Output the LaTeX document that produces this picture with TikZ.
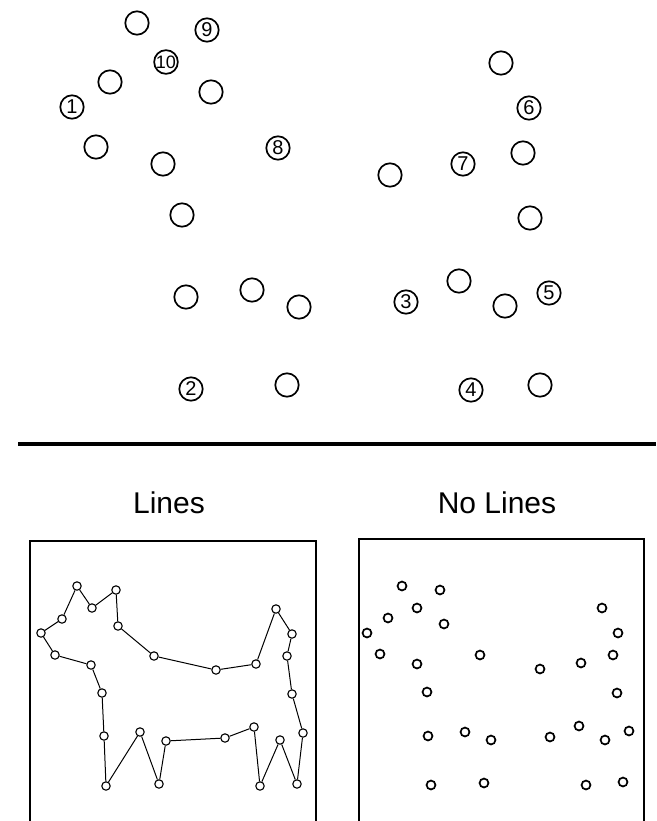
\documentclass[tikz,border=0pt]{standalone}
\usepackage{fontspec}
\setmainfont{Liberation Sans}
\begin{document}
\begin{tikzpicture}[x=1pt,y=-1pt,
  spot/.style={draw,circle,line width=1.7pt,minimum size=23.4pt,inner sep=0pt,font=\fontsize{20}{20}\selectfont},
  dot/.style={draw,circle,fill=white,line width=1.1pt,minimum size=8.4pt,inner sep=0pt},
  bolddot/.style={draw,circle,line width=1.7pt,minimum size=8.9pt,inner sep=0pt},
  title/.style={anchor=base,font=\fontsize{30}{36}\selectfont}]
\useasboundingbox (0,0) rectangle (656,821);
% upper field: plain spots and numbered spots
\foreach \x/\y [count=\i] in {137/23, 110/82, 211/92, 96/147, 163/164, 182/215,
    501/63, 523/153, 390/175, 530/218, 186/297, 252/290, 299/307,
    459/281, 505/306, 287/385, 540/385}
  \node (c\i) at (\x,\y) [spot] {};
\foreach \x/\y/\t in {72/107/1, 191/389/2, 406/302/3, 471/390/4, 549/293/5,
    529/108/6, 463/164/7, 278/148/8, 207/30/9}
  \node (n\t) at (\x,\y) [spot] {\t};
\node (n10) at (166,62) [spot,font=\fontsize{18}{18}\selectfont] {10};
\draw [line width=3.5pt] (18,444) -- (656,444);
% panel titles
\node (linesT) at (169,513) [title] {Lines};
\node (nolinesT) at (497,513) [title] {No Lines};
% frames, open at the bottom
\draw [line width=1.1pt] (30,821) |- (316,541) -- (316,821);
\draw [line width=1.1pt] (359,821) |- (644,539) -- (644,821);
% left panel: outline through the dots
\foreach \x/\y [count=\i] in {41/633, 62/619, 77/586, 92/608, 116/590, 118/626,
    154/656, 216/670, 256/664, 276/609, 292/634, 287/656, 292/694, 303/733,
    297/784, 280/740, 260/786, 254/727, 225/738, 166/741, 159/784, 140/732,
    106/786, 104/736, 102/693, 91/665, 55/655}
  \node (d\i) at (\x,\y) [dot] {};
\foreach \i [remember=\i as \j (initially 27)] in {1,...,27}
  \draw [line width=1pt] (d\j) -- (d\i);
% right panel: the same dots alone
\foreach \x/\y [count=\i] in {367/633, 388/618, 402/586, 417/608, 440/590, 444/624,
    480/655, 540/669, 581/663, 602/608, 618/633, 613/655, 617/693, 629/731,
    623/782, 605/740, 586/785, 579/726, 550/737, 491/740, 484/783, 465/732,
    431/785, 428/736, 427/692, 417/664, 380/654}
  \node (e\i) at (\x,\y) [bolddot] {};
\end{tikzpicture}
\end{document}
